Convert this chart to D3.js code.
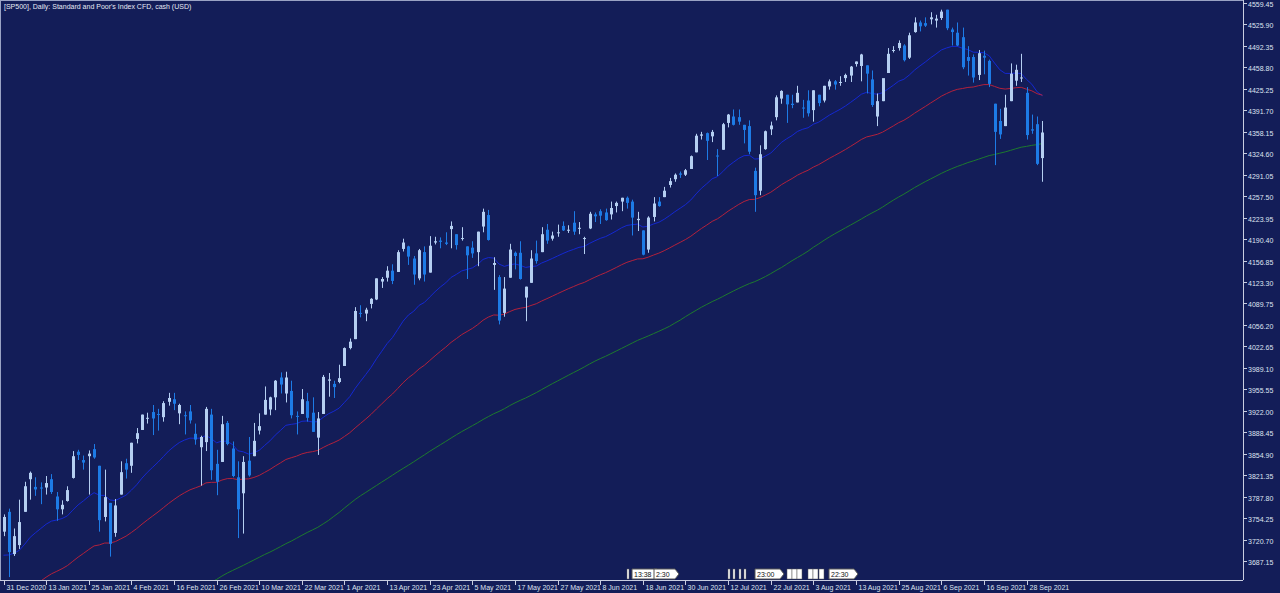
<!DOCTYPE html>
<html><head><meta charset="utf-8">
<script src="https://cdn.jsdelivr.net/npm/d3@7/dist/d3.min.js"></script>
<style>html,body{margin:0;padding:0;background:#131d58;overflow:hidden}svg{display:block}</style>
</head><body>
<script>
const title = "[SP500], Daily:  Standard and Poor's Index CFD, cash (USD)";
const dateLabels = ["31 Dec 2020","13 Jan 2021","25 Jan 2021","4 Feb 2021","16 Feb 2021","26 Feb 2021","10 Mar 2021","22 Mar 2021","1 Apr 2021","13 Apr 2021","23 Apr 2021","5 May 2021","17 May 2021","27 May 2021","8 Jun 2021","18 Jun 2021","30 Jun 2021","12 Jul 2021","22 Jul 2021","3 Aug 2021","13 Aug 2021","25 Aug 2021","6 Sep 2021","16 Sep 2021","28 Sep 2021"];
const priceTicks = [4559.45,4525.90,4492.35,4458.80,4425.25,4391.70,4358.15,4324.60,4291.05,4257.50,4223.95,4190.40,4156.85,4123.30,4089.75,4056.20,4022.65,3989.10,3955.55,3922.00,3888.45,3854.90,3821.35,3787.80,3754.25,3720.70,3687.15];
// closes before 31 Dec 2020 (for moving averages)
const preCloses = [3215,3224,3251,3257,3276,3236,3215,3239,3219,3258,3246,3271,3294,3306,3327,
3349,3351,3360,3333,3380,3373,3372,3381,3389,3374,3385,3397,3431,3443,3478,3484,3508,3500,
3526,3580,3455,3427,3426,3331,3398,3339,3340,3383,3401,3385,3357,3319,3281,3315,3237,3246,3298,3351,3335,3363,
3380,3348,3408,3361,3419,3446,3477,3534,3511,3488,3483,3483,3427,3443,3435,3453,3465,3401,3390,3271,3310,3270,
3310,3369,3443,3510,3509,3550,3546,3572,3537,3585,3627,3610,3567,3582,3557,3578,3635,3629,3630,3638,3622,
3662,3669,3666,3699,3691,3702,3672,3668,3663,3647,3694,3701,3722,3709,3695,3690,3687,3703,3735,3727,3732,3733];
const opens = [3733,3764,3698,3712,3764,3815,3803,3802,3802,3815,3788,3768,3781,3817,3858,3845,3851,3862,3836,3756,3778,
3731,3791,3840,3836,3878,3892,3911,3920,3917,3912,3936,3940,3918,3915,3921,3886,3865,3873,3916,3839,
3842,3903,3863,3818,3793,3844,3851,3891,3916,3924,3943,3974,3949,3953,3914,3917,3937,3919,3880,3917,3969,3964,3967,
3992,4020,4034,4075,4074,4089,4096,4124,4130,4141,4139,4175,4179,4160,4129,4170,4138,4185,4188,4185,4206,4198,
4191,4179,4177,4170,4210,4228,4150,4131,4075,4130,4169,4169,4099,4122,4168,4170,4205,4191,4201,4211,4204,
4216,4207,4191,4207,4229,4234,4232,4229,4242,4249,4255,4249,4220,4204,4174,4225,4249,4256,4275,4284,4293,4291,
4300,4326,4352,4356,4351,4321,4330,4372,4382,4381,4369,4367,4297,4266,4331,4362,4381,4410,4416,4402,4404,4396,
4407,4392,4416,4407,4429,4437,4436,4442,4446,4464,4461,4462,4440,4382,4406,4450,4485,4489,4493,4474,4514,4529,
4528,4534,4532,4536,4549,4518,4513,4506,4475,4475,4447,4477,4469,4402,4375,4367,4406,4438,4442,4419,4362,4370,4317];
const highs = [3760,3769,3738,3783,3811,3827,3818,3810,3820,3823,3795,3782,3804,3859,3861,3852,3860,3870,3836,3830,3778,
3784,3843,3847,3872,3895,3916,3919,3931,3925,3937,3950,3950,3933,3921,3931,3902,3883,3928,3925,3861,
3914,3906,3874,3843,3851,3881,3903,3918,3960,3944,3970,3982,3983,3969,3921,3956,3950,3943,3920,3978,3981,3969,3994,
4021,4035,4084,4087,4083,4098,4129,4131,4148,4151,4173,4191,4180,4164,4175,4179,4195,4194,4193,4201,4218,4198,
4209,4179,4187,4202,4238,4236,4162,4134,4131,4183,4171,4187,4116,4173,4188,4209,4214,4202,4213,4218,4212,
4234,4217,4194,4233,4232,4237,4238,4249,4249,4255,4257,4252,4233,4204,4226,4256,4256,4272,4286,4293,4296,4300,
4321,4355,4358,4357,4361,4331,4372,4386,4393,4393,4369,4376,4302,4337,4360,4374,4415,4423,4416,4416,4430,4408,
4423,4423,4416,4430,4440,4439,4445,4449,4461,4468,4480,4462,4454,4418,4441,4489,4492,4501,4495,4513,4537,4532,
4537,4545,4541,4549,4549,4521,4529,4521,4492,4479,4486,4485,4471,4402,4394,4416,4465,4463,4480,4428,4385,4382,4375];
const lows = [3726,3662,3695,3706,3764,3783,3789,3776,3791,3792,3750,3760,3780,3816,3845,3830,3791,3847,3733,3749,3694,
3725,3791,3816,3825,3871,3892,3902,3884,3891,3905,3930,3923,3901,3885,3902,3869,3805,3859,3814,3790,
3842,3868,3818,3723,3730,3819,3851,3885,3916,3915,3923,3949,3935,3910,3885,3917,3905,3889,3853,3917,3944,3942,3965,
3992,4018,4034,4068,4062,4082,4095,4114,4124,4120,4139,4171,4150,4119,4126,4124,4138,4182,4176,4181,4176,4174,
4188,4128,4161,4148,4201,4188,4111,4057,4069,4130,4143,4127,4062,4122,4152,4170,4183,4188,4194,4203,4200,
4197,4198,4167,4206,4217,4214,4219,4221,4232,4234,4238,4196,4203,4165,4169,4218,4241,4256,4271,4280,4286,4289,
4300,4326,4346,4314,4342,4289,4330,4365,4368,4369,4340,4323,4233,4259,4330,4353,4376,4402,4372,4395,4404,4380,
4382,4374,4398,4404,4424,4424,4430,4436,4436,4460,4437,4418,4397,4367,4406,4450,4482,4485,4468,4472,4513,4515,
4522,4526,4521,4533,4517,4493,4492,4456,4446,4435,4439,4448,4428,4306,4347,4367,4406,4430,4436,4346,4355,4306,4280];
const closes = [3756,3701,3726,3748,3804,3825,3799,3801,3809,3795,3768,3775,3798,3851,3853,3841,3855,3849,3751,3787,3714,
3774,3826,3830,3872,3887,3916,3911,3910,3916,3934,3942,3933,3931,3914,3907,3877,3881,3925,3829,3811,
3901,3870,3820,3768,3842,3821,3875,3898,3939,3943,3969,3963,3974,3915,3913,3940,3911,3889,3910,3975,3971,3959,3973,
4020,4030,4078,4074,4080,4097,4129,4128,4141,4125,4170,4185,4163,4135,4173,4135,4180,4187,4186,4183,4211,4181,
4192,4165,4168,4202,4233,4189,4153,4063,4113,4174,4164,4128,4116,4160,4156,4198,4188,4196,4201,4204,4205,
4202,4208,4192,4230,4226,4227,4220,4239,4247,4255,4247,4224,4222,4166,4224,4246,4242,4266,4281,4291,4291,4298,
4320,4352,4354,4344,4358,4320,4370,4385,4369,4374,4361,4327,4259,4323,4359,4368,4412,4422,4401,4400,4419,4395,
4387,4423,4403,4430,4437,4432,4436,4447,4460,4468,4479,4449,4400,4406,4442,4480,4486,4497,4470,4509,4529,4523,
4524,4537,4535,4546,4520,4514,4493,4459,4469,4443,4481,4474,4433,4358,4354,4396,4449,4455,4443,4353,4360,4308,4357];
const maPeriods = [20, 50, 108];
const maTypes = ["ema", "ema", "sma"];
const maColors = ["#1428d2", "#b3213c", "#1d7a2e"];
const events = [{i:117,t:""},{i:118,t:"13:38"},{i:122,t:"2:30"},{i:136,t:""},{i:137,t:""},{i:138,t:""},{i:139,t:""},{i:141,t:"23:00"},
{i:147,t:"5"},{i:148,t:"5"},{i:149,t:"5"},{i:151,t:"0"},{i:152,t:"5"},{i:153,t:"5"},{i:155,t:"22:30"}];

const W = 1280, H = 593, plotR = 1243, plotB = 580;
const n = Math.min(opens.length, highs.length, lows.length, closes.length);
const svg = d3.select("body").append("svg").attr("width", W).attr("height", H);
svg.append("rect").attr("width", W).attr("height", H).attr("fill", "#131d58");

const x = d3.scaleLinear().domain([0, 192]).range([3.5, 1026.5]);
const y = d3.scaleLinear().domain([3687.15, 4559.45]).range([561, 3]);

svg.append("clipPath").attr("id", "c").append("rect").attr("x", 1).attr("y", 1).attr("width", plotR - 1).attr("height", plotB - 1);
const g = svg.append("g").attr("clip-path", "url(#c)");

// moving averages
const all = preCloses.concat(closes.slice(0, n));
const off = preCloses.length;
maPeriods.forEach((p, k) => {
  const vals = new Array(all.length).fill(null);
  if (maTypes[k] === "sma") {
    for (let j = p - 1; j < all.length; j++) vals[j] = d3.mean(all.slice(j - p + 1, j + 1));
  } else {
    const a = 2 / (p + 1);
    let e = d3.mean(all.slice(0, p));
    vals[p - 1] = e;
    for (let j = p; j < all.length; j++) { e = a * all[j] + (1 - a) * e; vals[j] = e; }
  }
  const pts = [];
  for (let i = 0; i < n; i++) if (vals[off + i] != null) pts.push([i, vals[off + i]]);
  g.append("path").attr("d", d3.line().x(d => x(d[0])).y(d => y(d[1]))(pts))
    .attr("fill", "none").attr("stroke", maColors[k]).attr("stroke-width", 1);
});

// candles
const bull = "#b5cff2", bear = "#1d7be6";
for (let i = 0; i < n; i++) {
  const up = closes[i] >= opens[i];
  const col = up ? bull : bear;
  const cx = Math.round(x(i)) + 0.5;
  g.append("line").attr("x1", cx).attr("x2", cx).attr("y1", y(highs[i])).attr("y2", y(lows[i])).attr("stroke", col).attr("stroke-width", 1);
  const top = y(Math.max(opens[i], closes[i])), bot = y(Math.min(opens[i], closes[i]));
  g.append("rect").attr("x", cx - 1.5).attr("y", top).attr("width", 3).attr("height", Math.max(1, bot - top)).attr("fill", col);
}

// frame
svg.append("line").attr("x1", 0).attr("x2", plotR).attr("y1", 0.5).attr("y2", 0.5).attr("stroke", "#9aa3c4");
svg.append("line").attr("x1", 0.5).attr("x2", 0.5).attr("y1", 0).attr("y2", plotB).attr("stroke", "#9aa3c4");
svg.append("line").attr("x1", plotR + 0.5).attr("x2", plotR + 0.5).attr("y1", 0).attr("y2", plotB).attr("stroke", "#c8cde0");
svg.append("line").attr("x1", 0).attr("x2", plotR).attr("y1", plotB + 0.5).attr("y2", plotB + 0.5).attr("stroke", "#c8cde0");

// price axis
const font = "'Liberation Sans', Arial, sans-serif";
priceTicks.forEach(v => {
  const yy = Math.round(y(v)) + 0.5;
  svg.append("line").attr("x1", plotR).attr("x2", plotR + 4).attr("y1", yy).attr("y2", yy).attr("stroke", "#c8cde0");
  svg.append("text").attr("x", plotR + 5).attr("y", yy + 3).text(v.toFixed(2))
    .attr("fill", "#dfe3f0").attr("font-family", font).attr("font-size", 7);
});

// date axis
dateLabels.forEach((t, k) => {
  const xx = Math.round(x(k * 8)) + 0.5;
  svg.append("line").attr("x1", xx).attr("x2", xx).attr("y1", plotB).attr("y2", plotB + 5).attr("stroke", "#c8cde0");
  svg.append("text").attr("x", xx + 2).attr("y", 590).text(t)
    .attr("fill", "#dfe3f0").attr("font-family", font).attr("font-size", 7);
});

// event markers
events.forEach(e => {
  const xx = Math.round(x(e.i));
  if (e.t.length > 2) {
    const w = e.t.length * 4 + 5;
    svg.append("path").attr("d", `M${xx},569h${w}l4,5l-4,5h${-w}z`).attr("fill", "#ffffff").attr("stroke", "#555");
    svg.append("text").attr("x", xx + 2).attr("y", 577).text(e.t).attr("fill", "#111").attr("font-family", font).attr("font-size", 7);
  } else {
    svg.append("rect").attr("x", xx).attr("y", 569).attr("width", e.t ? 5 : 2).attr("height", 10).attr("fill", "#ffffff").attr("stroke", "#555").attr("stroke-width", 0.5);
  }
});

svg.append("text").attr("x", 4).attr("y", 9).text(title)
  .attr("fill", "#e6e9f4").attr("font-family", font).attr("font-size", 7);
</script>
</body></html>
